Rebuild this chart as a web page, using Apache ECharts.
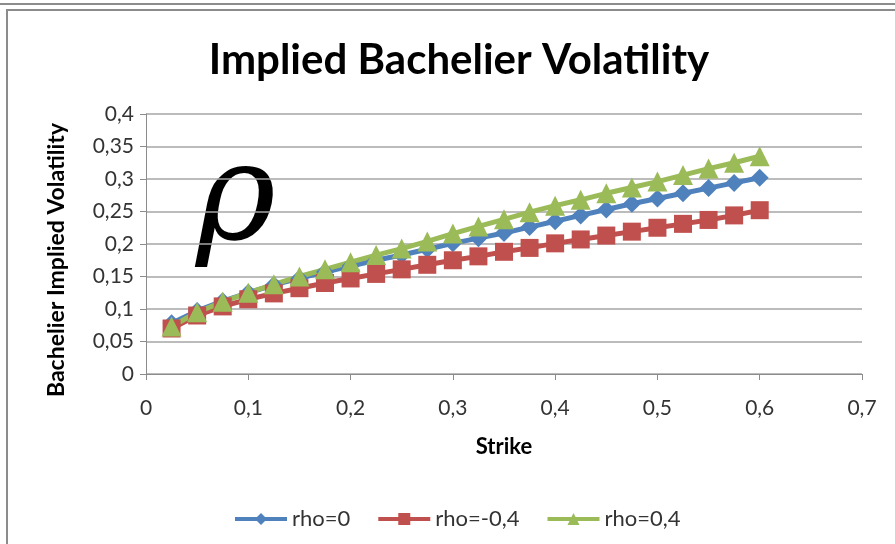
<!DOCTYPE html>
<html>
<head>
<meta charset="utf-8">
<script src="https://cdn.jsdelivr.net/npm/echarts@6/dist/echarts.min.js"></script>
<style>
html,body{margin:0;padding:0;background:#fff;}
#c{width:895px;height:544px;}
</style>
</head>
<body>
<div id="c"></div>
<script>
const strikes = [0.025,0.05,0.075,0.1,0.125,0.15,0.175,0.2,0.225,0.25,0.275,0.3,0.325,0.35,0.375,0.4,0.425,0.45,0.475,0.5,0.525,0.55,0.575,0.6];
const rho0 = [0.078,0.097,0.112,0.125,0.137,0.147,0.157,0.166,0.175,0.183,0.192,0.201,0.209,0.217,0.226,0.235,0.244,0.253,0.262,0.270,0.278,0.286,0.294,0.302];
const rhoNeg04 = [0.070,0.090,0.104,0.115,0.124,0.132,0.140,0.147,0.154,0.161,0.168,0.175,0.181,0.188,0.194,0.201,0.207,0.213,0.219,0.225,0.231,0.237,0.244,0.252];
const rhoPos04 = [0.073,0.095,0.111,0.125,0.138,0.150,0.161,0.172,0.183,0.193,0.204,0.216,0.227,0.238,0.249,0.259,0.268,0.278,0.287,0.296,0.306,0.316,0.325,0.335];
const seriesNames = ['rho=0','rho=-0,4','rho=0,4'];
const yAxisTitle = 'Bachelier Implied Volatility';
const FONT = 'Lato, "Open Sans", sans-serif';
const fmt = v => String(+v.toFixed(2)).replace('.', ',');
const pair = arr => strikes.map((x,i)=>[x,arr[i]]);

const chart = echarts.init(document.getElementById('c'), null, {renderer:'canvas'});
chart.setOption({
  animation:false,
  backgroundColor:'#fff',
  title:{
    text:'Implied Bachelier Volatility',
    left:454, top:34, textAlign:'center',
    textStyle:{fontFamily:FONT,fontWeight:'bold',fontSize:42,color:'#000'}
  },
  graphic:[
    {type:'rect',shape:{x:0,y:3,width:895,height:2},style:{fill:'#8c8c8c'}},
    {type:'rect',shape:{x:7,y:10,width:900,height:540},style:{fill:null,stroke:'#8c8c8c',lineWidth:2}},
    {type:'text',left:196,top:136,style:{text:'ρ',font:'italic 136px "DejaVu Serif", "Liberation Serif", serif',fill:'#000'}},
    {type:'text',x:57,y:260,rotation:Math.PI/2,
     style:{text:yAxisTitle,font:'bold 23px Lato, "Open Sans", sans-serif',fill:'#000',align:'center',verticalAlign:'middle'}}
  ],
  legend:{
    data:seriesNames,
    left:228, top:503,
    itemWidth:52, itemHeight:15, itemGap:26,
    lineStyle:{width:4},
    textStyle:{fontFamily:FONT,fontSize:22,color:'#333'}
  },
  grid:{left:146,right:33,top:114,bottom:170,containLabel:false},
  xAxis:{
    type:'value',min:0,max:0.7,interval:0.1,
    name:'Strike',nameLocation:'middle',nameGap:62,
    nameTextStyle:{fontFamily:FONT,fontWeight:'bold',fontSize:22,color:'#000'},
    axisLine:{lineStyle:{color:'#8c8c8c',width:1}},
    axisTick:{show:true,length:6,inside:false,lineStyle:{color:'#8c8c8c'}},
    axisLabel:{formatter:fmt,fontFamily:FONT,fontSize:21,color:'#333',margin:24},
    splitLine:{show:false}
  },
  yAxis:{
    type:'value',min:0,max:0.4,interval:0.05,
    axisLine:{show:true,lineStyle:{color:'#8c8c8c',width:1}},
    axisTick:{show:true,length:6,lineStyle:{color:'#8c8c8c'}},
    axisLabel:{formatter:fmt,fontFamily:FONT,fontSize:21,color:'#333',margin:12},
    splitLine:{show:true,lineStyle:{color:'#a6a6a6',width:1.5}}
  },
  series:[
    {name:seriesNames[0],type:'line',data:pair(rho0),symbol:'diamond',symbolSize:18,
     itemStyle:{color:'#4F81BD'},lineStyle:{color:'#4F81BD',width:5}},
    {name:seriesNames[1],type:'line',data:pair(rhoNeg04),symbol:'rect',symbolSize:18,
     itemStyle:{color:'#C0504D'},lineStyle:{color:'#C0504D',width:5}},
    {name:seriesNames[2],type:'line',data:pair(rhoPos04),symbol:'triangle',symbolSize:20,
     itemStyle:{color:'#9BBB59'},lineStyle:{color:'#9BBB59',width:5}}
  ]
});
</script>
</body>
</html>
